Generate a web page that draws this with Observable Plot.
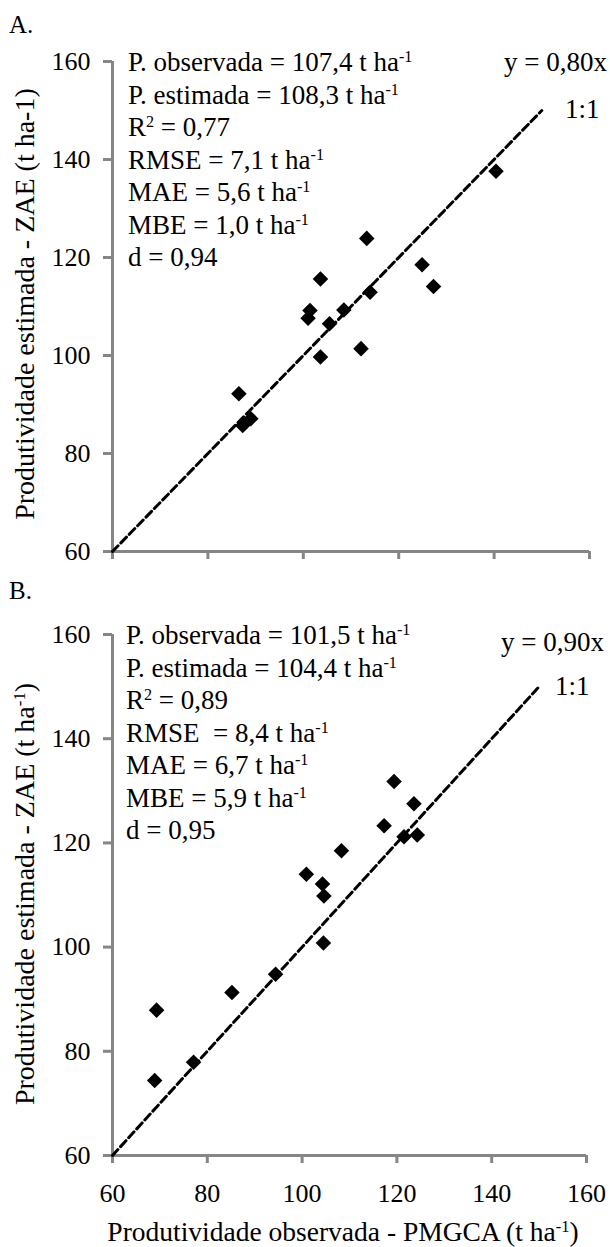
<!DOCTYPE html>
<html><head><meta charset="utf-8">
<script src="https://cdn.jsdelivr.net/npm/d3@7"></script>
<script src="https://cdn.jsdelivr.net/npm/@observablehq/plot@0.6"></script>
<style>
body{margin:0;background:#fff;font-family:"Liberation Serif","Times New Roman",serif;color:#000}
#wrap{position:relative;width:610px;height:1247px;overflow:hidden}
#wrap svg{position:absolute;left:0}
.t{position:absolute;white-space:nowrap;line-height:1;}
.t sup{font-size:60%;vertical-align:baseline;position:relative;top:-0.55em}
</style></head><body><div id="wrap"></div>
<script>
// ---- data ----
const axisTicks = [60, 80, 100, 120, 140, 160];
const oneToOne = [60, 150];

const obsA = [86.5, 87.3, 89.0, 101.0, 101.4, 103.6, 103.6, 105.5, 108.5, 112.1, 113.3, 114.0, 124.9, 127.3, 140.4];
const estA = [92.2, 85.7, 87.1, 107.6, 109.2, 115.6, 99.7, 106.5, 109.3, 101.4, 123.9, 112.9, 118.5, 114.1, 137.6];

const obsB = [68.9, 69.3, 77.1, 85.2, 94.4, 100.9, 104.3, 104.6, 104.5, 108.3, 117.3, 119.4, 121.5, 123.6, 124.3];
const estB = [74.4, 87.9, 77.9, 91.3, 94.8, 114.0, 112.1, 109.8, 100.8, 118.5, 123.3, 131.8, 121.2, 127.5, 121.5];

const statsA = ["P. observada = 107,4 t ha<sup>-1</sup>", "P. estimada = 108,3 t ha<sup>-1</sup>", "R<sup>2</sup> = 0,77",
  "RMSE = 7,1 t ha<sup>-1</sup>", "MAE = 5,6 t ha<sup>-1</sup>", "MBE = 1,0 t ha<sup>-1</sup>", "d = 0,94"];
const statsB = ["P. observada = 101,5 t ha<sup>-1</sup>", "P. estimada = 104,4 t ha<sup>-1</sup>", "R<sup>2</sup> = 0,89",
  "RMSE&nbsp; = 8,4 t ha<sup>-1</sup>", "MAE = 6,7 t ha<sup>-1</sup>", "MBE = 5,9 t ha<sup>-1</sup>", "d = 0,95"];
const eqA = "y = 0,80x", eqB = "y = 0,90x";
const ref11 = "1:1";
const yTitleA = "Produtividade estimada - ZAE (t ha-1)";
const yTitleB = "Produtividade estimada - ZAE (t ha<sup>-1</sup>)";
const xTitle = "Produtividade observada - PMGCA (t ha<sup>-1</sup>)";

const axisGray = "#868686";
const wrap = document.getElementById("wrap");

function panel(obs, est, top, height, mt, mb, mr, showX) {
  const pts = obs.map((x, i) => ({x, y: est[i]}));
  const ref = oneToOne.map(v => ({x: v, y: v}));
  const svg = Plot.plot({
    width: 610, height, marginTop: mt, marginBottom: mb, marginLeft: 112, marginRight: mr,
    style: {fontFamily: "Liberation Serif", fontSize: "26px", background: "transparent", overflow: "visible", color: "black"},
    x: {domain: [60, 160], axis: null, label: null},
    y: {domain: [60, 160], axis: null, label: null},
    marks: [
      Plot.ruleX([60], {stroke: axisGray, strokeWidth: 3}),
      Plot.ruleY([60], {stroke: axisGray, strokeWidth: 3}),
      Plot.axisY(axisTicks, {anchor: "left", tickSize: 9, tickPadding: 13, stroke: axisGray, strokeWidth: 3, fill: "black", label: null}),
      Plot.axisX(axisTicks, {anchor: "bottom", tickSize: 8, tickPadding: 20, stroke: axisGray, strokeWidth: 3, fill: "black", label: null,
        tickFormat: showX ? (d => String(d)) : (() => "")}),
      Plot.line(ref, {x: "x", y: "y", stroke: "black", strokeWidth: 3, strokeDasharray: "8,4"}),
      Plot.dot(pts, {x: "x", y: "y", symbol: "diamond2", r: 7, fill: "black"})
    ]
  });
  svg.style.top = top + "px";
  wrap.appendChild(svg);
}

function text(html, {left, right, cy, size}) {
  const d = document.createElement("div");
  d.className = "t";
  d.innerHTML = html;
  d.style.fontSize = size + "px";
  d.style.top = (cy - 0.5065 * size) + "px";
  if (left != null) d.style.left = left + "px";
  if (right != null) d.style.right = right + "px";
  wrap.appendChild(d);
  return d;
}
function vtitle(html, cx, cy, size) {
  const d = document.createElement("div");
  d.className = "t";
  d.innerHTML = html;
  d.style.fontSize = size + "px";
  d.style.left = cx + "px";
  d.style.top = cy + "px";
  d.style.transform = "translate(-50%,-50%) rotate(-90deg)";
  wrap.appendChild(d);
}

panel(obsA, estA, 0, 600, 61, 49, 21, false);
panel(obsB, estB, 600, 647, 34, 92, 24, true);

text("A.", {left: 9, cy: 25, size: 25});
text("B.", {left: 9, cy: 591, size: 25});

statsA.forEach((s, i) => text(s, {left: 128, cy: 63 + i * 32.5, size: 27}));
statsB.forEach((s, i) => text(s, {left: 126, cy: 636 + i * 32.5, size: 27}));
text(eqA, {right: 3, cy: 63, size: 27});
text(eqB, {right: 6, cy: 643, size: 27});
text(ref11, {left: 565, cy: 110, size: 27});
text(ref11, {left: 555, cy: 687, size: 27});

vtitle(yTitleA, 25, 303.5, 28);
vtitle(yTitleB, 25, 894, 28);
const xt = text(xTitle, {left: 343, cy: 1232, size: 27.5});
xt.style.transform = "translateX(-50%)";
</script></body></html>
